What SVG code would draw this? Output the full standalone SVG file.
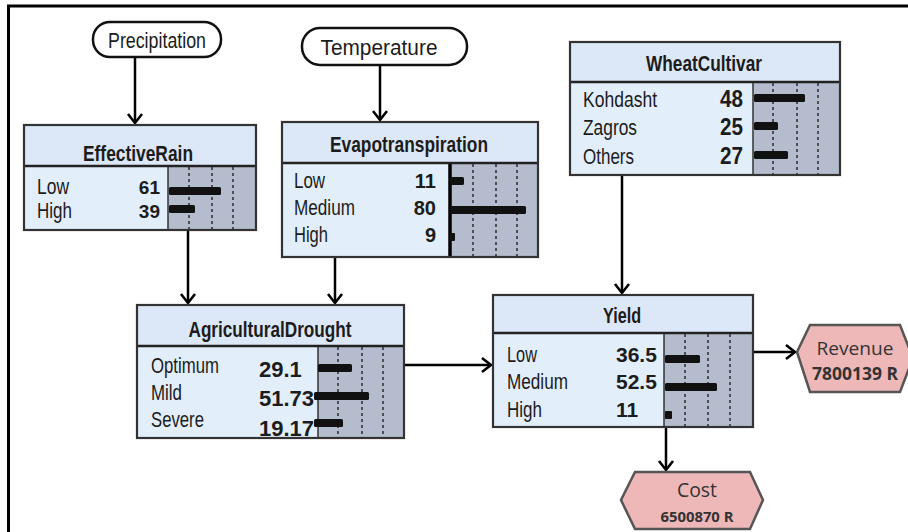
<svg xmlns="http://www.w3.org/2000/svg" width="908" height="532" viewBox="0 0 908 532">
<style>
.hdr{fill:#dce8f8}
.bdy{fill:#e3eefb}
.cht{fill:#b4bccd}
.out{fill:none;stroke:#333;stroke-width:2.2}
.sep{stroke:#222;stroke-width:2.6}
.ax{stroke:#333;stroke-width:1.5}
.grid{stroke:#222;stroke-width:1.4;stroke-dasharray:3 3}
.bar{fill:#111}
.lbl{font-family:"Liberation Sans Narrow","Arial Narrow","Liberation Sans",sans-serif;font-size:22px;fill:#1c1c1c}
.ttl{font-family:"Liberation Sans Narrow","Arial Narrow","Liberation Sans",sans-serif;font-size:22px;font-weight:bold;fill:#1c1c1c;text-anchor:middle}
.val{font-family:"Liberation Sans",Arial,sans-serif;font-weight:bold;fill:#1c1c1c}
.pill{fill:#fff;stroke:#111;stroke-width:2.5}
.hex{fill:#efb8b8;stroke:#555;stroke-width:2.5}
.ht{font-family:"Open Sans","Liberation Sans",sans-serif;fill:#333;text-anchor:middle}
.conn{fill:none;stroke:#000;stroke-width:2.5;marker-end:url(#arr)}
</style>
<defs>
<marker id="arr" viewBox="-2 -2 14 18" refX="9" refY="7" markerWidth="14" markerHeight="18" markerUnits="userSpaceOnUse" orient="auto">
<path d="M0,0 L9,7 L0,14" fill="none" stroke="#000" stroke-width="2.6"/>
</marker>
</defs>
<rect width="908" height="532" fill="#fff"/>
<line x1="7" y1="6" x2="908" y2="6" stroke="#000" stroke-width="3"/>
<line x1="8.5" y1="5" x2="8.5" y2="532" stroke="#000" stroke-width="3"/>

<g id="connectors">
<line class="conn" x1="135" y1="57" x2="135" y2="123"/>
<line class="conn" x1="380" y1="65" x2="380" y2="120"/>
<line class="conn" x1="188" y1="230" x2="188" y2="303"/>
<line class="conn" x1="335" y1="257" x2="335" y2="303"/>
<line class="conn" x1="622" y1="175" x2="622" y2="293"/>
<line class="conn" x1="404" y1="365" x2="491" y2="365"/>
<line class="conn" x1="753" y1="352" x2="795" y2="352"/>
<line class="conn" x1="666" y1="427" x2="666" y2="470"/>
</g>

<g id="Precipitation">
<rect class="pill" x="93" y="22" width="128" height="35" rx="17"/>
<text class="lbl" x="157" y="48" text-anchor="middle" textLength="98" lengthAdjust="spacingAndGlyphs">Precipitation</text>
</g>

<g id="Temperature">
<rect class="pill" x="302" y="28" width="165" height="37" rx="18"/>
<text class="lbl" x="379" y="55" text-anchor="middle" textLength="117" lengthAdjust="spacingAndGlyphs">Temperature</text>
</g>

<g id="EffectiveRain">
<rect class="bdy" x="24" y="125" width="232" height="105"/>
<rect class="hdr" x="24" y="125" width="232" height="41"/>
<rect class="cht" x="168" y="166" width="88" height="64"/>
<line class="grid" x1="189" y1="167" x2="189" y2="229"/>
<line class="grid" x1="212" y1="167" x2="212" y2="229"/>
<line class="grid" x1="233" y1="167" x2="233" y2="229"/>
<line class="ax" x1="168" y1="166" x2="168" y2="230"/>
<line class="sep" x1="24" y1="166" x2="256" y2="166"/>
<rect class="out" x="24" y="125" width="232" height="105"/>
<text class="ttl" x="138" y="161" textLength="110" lengthAdjust="spacingAndGlyphs">EffectiveRain</text>
<text class="lbl" x="37" y="194" textLength="32" lengthAdjust="spacingAndGlyphs">Low</text>
<text class="lbl" x="37" y="218" textLength="35" lengthAdjust="spacingAndGlyphs">High</text>
<text class="val" x="160" y="194" font-size="19" text-anchor="end">61</text>
<text class="val" x="160" y="218" font-size="19" text-anchor="end">39</text>
<rect class="bar" x="169" y="187" width="52" height="8" rx="1.5"/>
<rect class="bar" x="169" y="205" width="26" height="8" rx="1.5"/>
</g>

<g id="Evapotranspiration">
<rect class="bdy" x="282" y="122" width="256" height="135"/>
<rect class="hdr" x="282" y="122" width="256" height="41"/>
<rect class="cht" x="450" y="163" width="88" height="94"/>
<line class="grid" x1="473" y1="164" x2="473" y2="256"/>
<line class="grid" x1="496" y1="164" x2="496" y2="256"/>
<line class="grid" x1="517" y1="164" x2="517" y2="256"/>
<line x1="450" y1="163" x2="450" y2="257" stroke="#000" stroke-width="3.5"/>
<line class="sep" x1="282" y1="163" x2="538" y2="163"/>
<rect class="out" x="282" y="122" width="256" height="135"/>
<text class="ttl" x="409" y="152" textLength="158" lengthAdjust="spacingAndGlyphs">Evapotranspiration</text>
<text class="lbl" x="294" y="188" textLength="31" lengthAdjust="spacingAndGlyphs">Low</text>
<text class="lbl" x="294" y="215" textLength="61" lengthAdjust="spacingAndGlyphs">Medium</text>
<text class="lbl" x="294" y="242" textLength="34" lengthAdjust="spacingAndGlyphs">High</text>
<text class="val" x="436" y="188" font-size="20" font-weight="normal" text-anchor="end">11</text>
<text class="val" x="436" y="215" font-size="20" font-weight="normal" text-anchor="end">80</text>
<text class="val" x="436" y="242" font-size="20" font-weight="normal" text-anchor="end">9</text>
<rect class="bar" x="450" y="177" width="14" height="8" rx="1.5"/>
<rect class="bar" x="450" y="206" width="76" height="8" rx="1.5"/>
<rect class="bar" x="450" y="233" width="5" height="8" rx="1"/>
</g>

<g id="WheatCultivar">
<rect class="bdy" x="570" y="42" width="270" height="133"/>
<rect class="hdr" x="570" y="42" width="270" height="40"/>
<rect class="cht" x="753" y="82" width="87" height="93"/>
<line class="grid" x1="773" y1="83" x2="773" y2="174"/>
<line class="grid" x1="797" y1="83" x2="797" y2="174"/>
<line class="grid" x1="818" y1="83" x2="818" y2="174"/>
<line class="ax" x1="753" y1="82" x2="753" y2="175"/>
<line class="sep" x1="570" y1="82" x2="840" y2="82"/>
<rect class="out" x="570" y="42" width="270" height="133"/>
<text class="ttl" x="704" y="71" textLength="116" lengthAdjust="spacingAndGlyphs">WheatCultivar</text>
<text class="lbl" x="583" y="107" textLength="74" lengthAdjust="spacingAndGlyphs">Kohdasht</text>
<text class="lbl" x="583" y="135" textLength="54" lengthAdjust="spacingAndGlyphs">Zagros</text>
<text class="lbl" x="583" y="164" textLength="51" lengthAdjust="spacingAndGlyphs">Others</text>
<text class="val" x="743" y="107" font-size="23" text-anchor="end" textLength="23" lengthAdjust="spacingAndGlyphs">48</text>
<text class="val" x="743" y="135" font-size="23" text-anchor="end" textLength="23" lengthAdjust="spacingAndGlyphs">25</text>
<text class="val" x="743" y="164" font-size="23" text-anchor="end" textLength="23" lengthAdjust="spacingAndGlyphs">27</text>
<rect class="bar" x="754" y="94" width="51" height="8" rx="1.5"/>
<rect class="bar" x="754" y="122" width="24" height="8" rx="1.5"/>
<rect class="bar" x="754" y="151" width="34" height="8" rx="1.5"/>
</g>

<g id="AgriculturalDrought">
<rect class="bdy" x="137" y="305" width="267" height="133"/>
<rect class="hdr" x="137" y="305" width="267" height="41"/>
<rect class="cht" x="318" y="346" width="86" height="92"/>
<line class="grid" x1="338" y1="347" x2="338" y2="437"/>
<line class="grid" x1="362" y1="347" x2="362" y2="437"/>
<line class="grid" x1="383" y1="347" x2="383" y2="437"/>
<line class="ax" x1="318" y1="346" x2="318" y2="438"/>
<line class="sep" x1="137" y1="346" x2="404" y2="346"/>
<rect class="out" x="137" y="305" width="267" height="133"/>
<text class="ttl" x="270" y="337" textLength="163" lengthAdjust="spacingAndGlyphs">AgriculturalDrought</text>
<text class="lbl" x="151" y="373" textLength="68" lengthAdjust="spacingAndGlyphs">Optimum</text>
<text class="lbl" x="151" y="400" textLength="31" lengthAdjust="spacingAndGlyphs">Mild</text>
<text class="lbl" x="151" y="427" textLength="53" lengthAdjust="spacingAndGlyphs">Severe</text>
<text class="val" x="259" y="377" font-size="22">29.1</text>
<text class="val" x="259" y="406" font-size="22">51.73</text>
<text class="val" x="259" y="436" font-size="22">19.17</text>
<rect class="bar" x="318" y="364" width="34" height="8" rx="1.5"/>
<rect class="bar" x="314" y="392" width="55" height="8" rx="1.5"/>
<rect class="bar" x="314" y="419" width="29" height="8" rx="1.5"/>
</g>

<g id="Yield">
<rect class="bdy" x="493" y="295" width="260" height="132"/>
<rect class="hdr" x="493" y="295" width="260" height="38"/>
<rect class="cht" x="664" y="333" width="89" height="94"/>
<line class="grid" x1="685" y1="334" x2="685" y2="426"/>
<line class="grid" x1="708" y1="334" x2="708" y2="426"/>
<line class="grid" x1="730" y1="334" x2="730" y2="426"/>
<line class="ax" x1="664" y1="333" x2="664" y2="427"/>
<line class="sep" x1="493" y1="333" x2="753" y2="333"/>
<rect class="out" x="493" y="295" width="260" height="132"/>
<text class="ttl" x="622" y="323" textLength="38" lengthAdjust="spacingAndGlyphs">Yield</text>
<text class="lbl" x="507" y="362" textLength="30" lengthAdjust="spacingAndGlyphs">Low</text>
<text class="lbl" x="507" y="389" textLength="61" lengthAdjust="spacingAndGlyphs">Medium</text>
<text class="lbl" x="507" y="417" textLength="35" lengthAdjust="spacingAndGlyphs">High</text>
<text class="val" x="616" y="362" font-size="21">36.5</text>
<text class="val" x="616" y="389" font-size="21">52.5</text>
<text class="val" x="616" y="417" font-size="21">11</text>
<rect class="bar" x="665" y="355" width="35" height="8" rx="1.5"/>
<rect class="bar" x="665" y="383" width="52" height="8" rx="1.5"/>
<rect class="bar" x="665" y="411" width="7" height="8" rx="1"/>
</g>

<g id="Revenue">
<polygon class="hex" points="797,352 810,325 900,325 913,358 900,392 810,392"/>
<text class="ht" x="855" y="355" font-size="19" textLength="77" lengthAdjust="spacingAndGlyphs">Revenue</text>
<text class="ht" x="855" y="380" font-size="17" font-weight="bold" textLength="86" lengthAdjust="spacingAndGlyphs">7800139 R</text>
</g>

<g id="Cost">
<polygon class="hex" points="621,500 635,472 750,472 763,500 750,529 635,529"/>
<text class="ht" x="697" y="497" font-size="20" textLength="40" lengthAdjust="spacingAndGlyphs">Cost</text>
<text class="ht" x="697" y="522" font-size="15" font-weight="bold" textLength="73" lengthAdjust="spacingAndGlyphs">6500870 R</text>
</g>
</svg>
